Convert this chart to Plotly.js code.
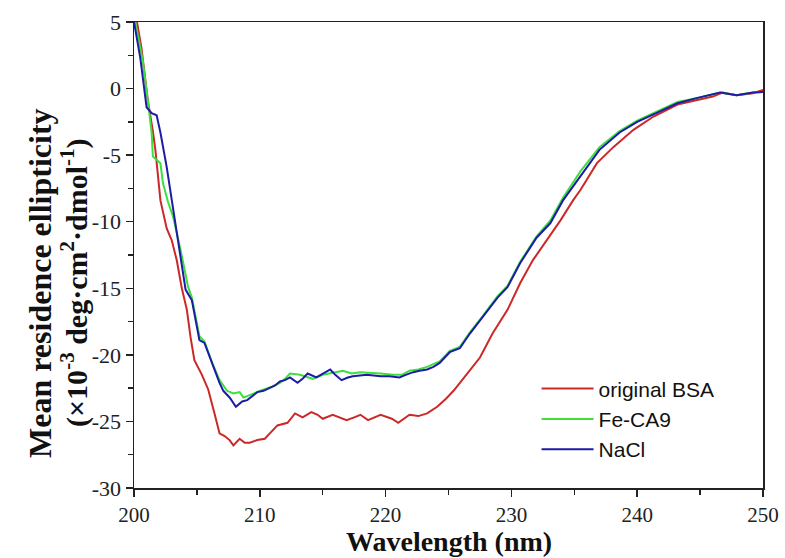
<!DOCTYPE html>
<html>
<head>
<meta charset="utf-8">
<script src="https://cdn.plot.ly/plotly-3.0.1.min.js"></script>
<style>html,body{margin:0;padding:0;background:#fff;}#chart{width:785px;height:558px;}</style>
</head>
<body>
<div id="chart"></div>
<script>
// Series names
const seriesNames = ["original BSA", "Fe-CA9", "NaCl"];

// original BSA
const bsaWavelength = [200.0, 200.2, 200.6, 201.1, 201.5, 201.7, 202.1, 202.6, 203.0, 203.4, 203.8, 204.2, 204.5, 204.8, 205.4, 205.9, 206.4, 206.8, 207.2, 207.6, 207.9, 208.4, 208.8, 209.2, 209.8, 210.4, 210.8, 211.4, 212.2, 212.8, 213.4, 214.1, 214.6, 215.0, 215.8, 216.4, 216.9, 217.5, 218.0, 218.6, 219.6, 220.5, 221.0, 221.9, 222.6, 223.3, 224.1, 224.8, 225.4, 226.0, 226.7, 227.5, 228.5, 229.7, 230.7, 231.7, 232.8, 233.9, 234.9, 235.5, 236.8, 238.1, 239.7, 241.3, 243.2, 244.8, 246.0, 246.8, 247.9, 249.2, 250.0];
const bsaEllipticity = [6.5, 5.2, 3.0, -0.9, -3.2, -4.6, -8.4, -10.5, -11.4, -12.9, -15.0, -16.6, -18.7, -20.4, -21.5, -22.6, -24.4, -25.9, -26.1, -26.4, -26.8, -26.3, -26.6, -26.6, -26.4, -26.3, -25.9, -25.3, -25.1, -24.4, -24.7, -24.3, -24.5, -24.8, -24.5, -24.7, -24.9, -24.7, -24.5, -24.9, -24.5, -24.8, -25.1, -24.5, -24.6, -24.4, -23.9, -23.3, -22.7, -22.0, -21.2, -20.2, -18.4, -16.6, -14.6, -12.9, -11.4, -9.9, -8.4, -7.6, -5.6, -4.4, -3.1, -2.1, -1.2, -0.86, -0.6, -0.3, -0.5, -0.35, -0.1];

// Fe-CA9
const feWavelength = [200.1, 200.7, 201.1, 201.4, 201.5, 202.1, 202.3, 202.7, 203.1, 203.7, 204.3, 204.6, 205.2, 205.6, 206.3, 206.8, 207.4, 207.9, 208.4, 208.7, 209.0, 209.5, 210.3, 211.0, 211.6, 212.0, 212.4, 213.2, 214.2, 215.0, 215.6, 216.6, 217.3, 218.0, 219.6, 220.6, 221.3, 221.9, 222.6, 223.3, 224.3, 225.1, 225.9, 226.7, 227.7, 228.9, 229.7, 230.7, 232.0, 233.1, 234.1, 235.5, 237.0, 238.6, 240.0, 241.6, 243.2, 244.8, 246.6, 247.9, 249.2, 250.0];
const feEllipticity = [5.0, 2.1, -0.9, -3.3, -5.1, -5.6, -7.1, -8.5, -9.6, -12.1, -14.9, -15.7, -18.6, -19.0, -20.8, -21.9, -22.7, -22.9, -22.8, -23.2, -23.1, -22.9, -22.6, -22.4, -22.1, -21.8, -21.4, -21.5, -21.8, -21.5, -21.4, -21.2, -21.4, -21.3, -21.4, -21.5, -21.5, -21.2, -21.1, -20.9, -20.5, -19.7, -19.4, -18.3, -17.1, -15.6, -14.8, -13.0, -11.1, -9.9, -8.2, -6.2, -4.4, -3.2, -2.4, -1.7, -1.0, -0.7, -0.3, -0.5, -0.3, -0.25];

// NaCl
const naclWavelength = [200.0, 200.5, 201.0, 201.4, 201.8, 202.1, 202.6, 203.1, 203.5, 203.8, 204.1, 204.6, 205.2, 205.6, 206.3, 206.8, 207.1, 207.6, 208.1, 208.6, 209.0, 209.4, 209.8, 210.3, 210.8, 211.2, 211.6, 212.0, 212.4, 213.0, 213.4, 213.8, 214.5, 215.0, 215.6, 216.0, 216.5, 217.0, 217.4, 218.5, 219.6, 220.3, 221.1, 221.6, 222.2, 222.7, 223.3, 223.8, 224.3, 225.1, 225.9, 226.7, 227.7, 228.9, 229.7, 230.7, 232.0, 233.1, 234.1, 235.5, 237.0, 238.6, 240.0, 241.6, 243.2, 244.8, 246.6, 247.9, 249.2, 250.0];
const naclEllipticity = [5.0, 2.3, -1.4, -1.85, -2.0, -3.3, -5.9, -9.0, -11.5, -13.6, -15.1, -15.9, -18.9, -19.1, -20.9, -22.1, -22.7, -23.2, -23.9, -23.5, -23.4, -23.1, -22.8, -22.7, -22.5, -22.3, -22.0, -21.9, -21.7, -22.1, -21.8, -21.4, -21.7, -21.4, -21.1, -21.5, -21.9, -21.7, -21.6, -21.5, -21.6, -21.6, -21.7, -21.5, -21.3, -21.2, -21.1, -20.9, -20.6, -19.8, -19.5, -18.4, -17.2, -15.7, -14.9, -13.1, -11.2, -10.1, -8.4, -6.6, -4.6, -3.3, -2.5, -1.8, -1.1, -0.7, -0.3, -0.5, -0.3, -0.25];

// Tick labels
const xTickVals = [200, 210, 220, 230, 240, 250];
const xTickText = ["200", "210", "220", "230", "240", "250"];
const yTickVals = [5, 0, -5, -10, -15, -20, -25, -30];
const yTickText = ["5", "0", "-5", "-10", "-15", "-20", "-25", "-30"];

// Axis titles
const xTitle = "Wavelength (nm)";
const yTitleLine1 = "Mean residence ellipticity";
const yTitleLine2 = "(×10<sup>-3</sup> deg·cm<sup>2</sup>·dmol<sup>-1</sup>)";

const colors = ["#cc2828", "#3ede3e", "#1c1ca6"];

const traces = [
  {x: bsaWavelength, y: bsaEllipticity, name: seriesNames[0]},
  {x: feWavelength, y: feEllipticity, name: seriesNames[1]},
  {x: naclWavelength, y: naclEllipticity, name: seriesNames[2]}
].map((t, i) => Object.assign(t, {
  type: "scatter", mode: "lines",
  line: {color: colors[i], width: 2}
}));

const serif = "'Liberation Serif', 'Times New Roman', serif";

const layout = {
  width: 785, height: 558,
  margin: {l: 134, r: 22, t: 22, b: 70},
  paper_bgcolor: "#ffffff", plot_bgcolor: "#ffffff",
  font: {family: serif, size: 22, color: "#222"},
  showlegend: true,
  legend: {
    x: 0.64, y: 0.2565, xanchor: "left", yanchor: "top",
    bgcolor: "rgba(0,0,0,0)", borderwidth: 0,
    itemwidth: 52,
    font: {family: "'Liberation Sans', Arial, sans-serif", size: 21, color: "#111"},
    tracegroupgap: 0
  },
  xaxis: {
    range: [200, 250], showgrid: false, zeroline: false,
    showline: true, linecolor: "#222", linewidth: 1.5, mirror: true,
    ticks: "outside", ticklen: 7, tickwidth: 1.5, tickcolor: "#222",
    tickmode: "array", tickvals: xTickVals, ticktext: xTickText,
    minor: {ticks: "outside", dtick: 5, tick0: 200, ticklen: 5, tickwidth: 1.5, tickcolor: "#222", showgrid: false},
    tickfont: {family: serif, size: 21, color: "#222"}
  },
  yaxis: {
    range: [-30, 5], showgrid: false, zeroline: false,
    showline: true, linecolor: "#222", linewidth: 1.5, mirror: true,
    ticks: "outside", ticklen: 7, tickwidth: 1.5, tickcolor: "#222",
    tickmode: "array", tickvals: yTickVals, ticktext: yTickText,
    minor: {ticks: "outside", dtick: 2.5, tick0: 0, ticklen: 5, tickwidth: 1.5, tickcolor: "#222", showgrid: false},
    tickfont: {family: serif, size: 22, color: "#222"}
  },
  annotations: [
    {
      text: "<b>" + xTitle + "</b>",
      xref: "paper", yref: "paper",
      x: 0.5, y: (488 - 541) / 466, xanchor: "center", yanchor: "middle",
      showarrow: false,
      font: {family: serif, size: 28, color: "#111"}
    },
    {
      text: "<b>" + yTitleLine1 + "</b>",
      textangle: -90, xref: "paper", yref: "paper",
      x: (40 - 134) / 629, y: 0.44, xanchor: "center", yanchor: "middle",
      showarrow: false,
      font: {family: serif, size: 32, color: "#111"}
    },
    {
      text: "<b>" + yTitleLine2 + "</b>",
      textangle: -90, xref: "paper", yref: "paper",
      x: (75 - 134) / 629, y: 0.44, xanchor: "center", yanchor: "middle",
      showarrow: false,
      font: {family: serif, size: 30, color: "#111"}
    }
  ]
};

Plotly.newPlot("chart", traces, layout, {displayModeBar: false, staticPlot: true});
</script>
</body>
</html>
